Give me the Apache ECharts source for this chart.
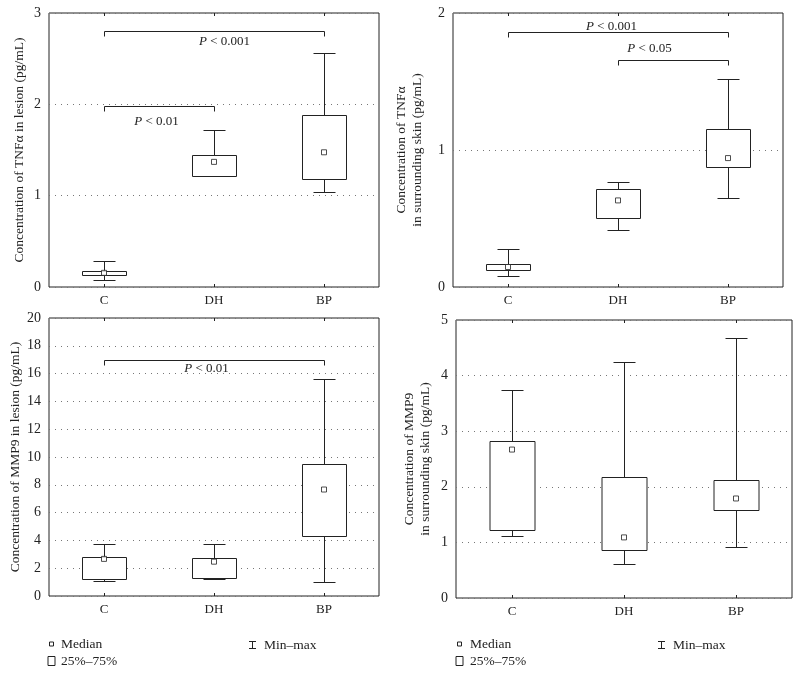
<!DOCTYPE html>
<html>
<head>
<meta charset="utf-8">
<script src="https://cdn.jsdelivr.net/npm/echarts@6/dist/echarts.min.js"></script>
<style>
html,body{margin:0;padding:0;background:#fff;}
#chart{width:800px;height:674px;}
</style>
</head>
<body>
<div id="chart"></div>
<script>
// ---- data ----
const categories = ['C', 'DH', 'BP'];
// each row: [min, q1, median, q3, max]
const tnfLesion = [[0.08, 0.13, 0.155, 0.175, 0.28], [1.22, 1.22, 1.37, 1.45, 1.72], [1.04, 1.18, 1.475, 1.88, 2.56]];
const tnfSkin = [[0.08, 0.127, 0.146, 0.166, 0.278], [0.417, 0.507, 0.632, 0.715, 0.766], [0.646, 0.878, 0.941, 1.154, 1.517]];
const mmpLesion = [[1.08, 1.20, 2.67, 2.81, 3.72], [1.20, 1.27, 2.47, 2.74, 3.72], [0.98, 4.32, 7.66, 9.48, 15.58]];
const mmpSkin = [[1.11, 1.22, 2.67, 2.83, 3.74], [0.61, 0.87, 1.09, 2.17, 4.25], [0.92, 1.58, 1.79, 2.13, 4.68]];
// brackets: [fromCategoryIndex, toCategoryIndex, yValue]
const bracketsTnfLesion = [[0, 2, 2.80], [0, 1, 1.98]];
const bracketsTnfSkin = [[0, 2, 1.86], [1, 2, 1.656]];
const bracketsMmpLesion = [[0, 2, 16.97]];
const labelsTnfLesion = ['P < 0.001', 'P < 0.01'];
const labelsTnfSkin = ['P < 0.001', 'P < 0.05'];
const labelsMmpLesion = ['P < 0.01'];
const yTicks = [[0, 3, 1], [0, 2, 1], [0, 20, 2], [0, 5, 1]]; // min, max, interval
const yNames = ['Concentration of TNFα in lesion (pg/mL)', 'Concentration of TNFα\nin surrounding skin (pg/mL)',
  'Concentration of MMP9 in lesion (pg/mL)', 'Concentration of MMP9\nin surrounding skin (pg/mL)'];
const legendTexts = ['Median', '25%–75%', 'Min–max'];

// ---- styling ----
const FONT = '"Liberation Serif", "DejaVu Serif", serif';
const INK = '#222';
const grids = [
  { left: 49, top: 13, width: 330, height: 274 },
  { left: 453, top: 13, width: 330, height: 274 },
  { left: 49, top: 318, width: 330, height: 278 },
  { left: 456, top: 320, width: 336, height: 278 }
];
const nameGaps = [22, 28, 22, 23];
const bracketLabelOffsets = [
  [[10, 10], [-3, 15]],
  [[-7, -6], [-24, -12]],
  [[-8, 8]]
];

const panels = [tnfLesion, tnfSkin, mmpLesion, mmpSkin];
const brackets = [bracketsTnfLesion, bracketsTnfSkin, bracketsMmpLesion];
const bracketLabels = [labelsTnfLesion, labelsTnfSkin, labelsMmpLesion];

function crisp(v) { return Math.round(v) + 0.5; }

function boxRender(params, api) {
  const x = api.value(0);
  const mn = api.coord([x, api.value(1)]);
  const q1 = api.coord([x, api.value(2)]);
  const q3 = api.coord([x, api.value(4)]);
  const mx = api.coord([x, api.value(5)]);
  const bw = api.size([1, 0])[0];
  const boxW = Math.round(bw * 0.4), capW = Math.round(bw * 0.2);
  const cx = crisp(mn[0]);
  const st = { stroke: INK, lineWidth: 1, fill: null };
  const children = [];
  children.push({ type: 'line', shape: { x1: cx, y1: crisp(q3[1]), x2: cx, y2: crisp(mx[1]) }, style: st });
  children.push({ type: 'line', shape: { x1: cx - capW / 2, y1: crisp(mx[1]), x2: cx + capW / 2, y2: crisp(mx[1]) }, style: st });
  if (Math.round(mn[1]) !== Math.round(q1[1])) {
    children.push({ type: 'line', shape: { x1: cx, y1: crisp(q1[1]), x2: cx, y2: crisp(mn[1]) }, style: st });
    children.push({ type: 'line', shape: { x1: cx - capW / 2, y1: crisp(mn[1]), x2: cx + capW / 2, y2: crisp(mn[1]) }, style: st });
  }
  children.push({ type: 'rect', shape: { x: cx - boxW / 2, y: crisp(q3[1]), width: boxW, height: Math.round(q1[1]) - Math.round(q3[1]) },
    style: { stroke: INK, lineWidth: 1, fill: '#fff' } });
  return { type: 'group', children: children };
}

function makeBracketRender(panelIdx) {
  return function (params, api) {
    const y = api.value(2);
    const p1 = api.coord([api.value(0), y]);
    const p2 = api.coord([api.value(1), y]);
    const yy = crisp(p1[1]);
    const x1 = crisp(p1[0]), x2 = crisp(p2[0]);
    const off = bracketLabelOffsets[panelIdx][params.dataIndex];
    const txt = bracketLabels[panelIdx][params.dataIndex].replace(/^P/, '{i|P}');
    return {
      type: 'group',
      children: [
        { type: 'polyline', shape: { points: [[x1, yy + 5], [x1, yy], [x2, yy], [x2, yy + 5]] },
          style: { stroke: INK, lineWidth: 1, fill: null } },
        { type: 'text', style: {
          text: txt, x: (x1 + x2) / 2 + off[0], y: yy + off[1], align: 'center', verticalAlign: 'middle',
          fontFamily: FONT, fontSize: 13, fill: INK,
          rich: { i: { fontStyle: 'italic', fontFamily: FONT, fontSize: 13, fill: INK } } } }
      ]
    };
  };
}

const xAxes = [], yAxes = [], series = [];
grids.forEach((g, i) => {
  xAxes.push({
    type: 'category', gridIndex: i, data: categories, boundaryGap: true,
    axisLine: { show: false },
    axisTick: { show: true, inside: true, alignWithLabel: true, length: 3, lineStyle: { color: INK } },
    axisLabel: { fontFamily: FONT, fontSize: 13, color: INK, margin: 7 }
  });
  yAxes.push({
    type: 'value', gridIndex: i, min: yTicks[i][0], max: yTicks[i][1], interval: yTicks[i][2],
    name: yNames[i], nameLocation: 'middle', nameGap: nameGaps[i], nameRotate: 90,
    nameTextStyle: { fontFamily: FONT, fontSize: 13.5, color: INK, lineHeight: 16 },
    axisLine: { show: false }, axisTick: { show: false },
    axisLabel: { fontFamily: FONT, fontSize: 14, color: INK, margin: 8 },
    splitLine: { show: true, lineStyle: { type: [1, 5], color: '#777', width: 1 } }
  });
});
grids.forEach((g, i) => {
  xAxes.push({
    type: 'category', gridIndex: i, data: categories, position: 'top', boundaryGap: true,
    axisLine: { show: false }, axisLabel: { show: false },
    axisTick: { show: true, inside: true, alignWithLabel: true, length: 3, lineStyle: { color: INK } }
  });
});

panels.forEach((arr, i) => {
  series.push({
    type: 'custom', xAxisIndex: i, yAxisIndex: i, renderItem: boxRender,
    encode: { x: 0, y: [1, 2, 3, 4, 5] },
    data: arr.map((r, k) => [k].concat(r)), z: 2
  });
  series.push({
    type: 'scatter', xAxisIndex: i, yAxisIndex: i, symbol: 'rect', symbolSize: 5,
    itemStyle: { color: '#fff', borderColor: INK, borderWidth: 1 },
    data: arr.map((r, k) => [k, r[2]]), z: 5, silent: true
  });
});
brackets.forEach((b, i) => {
  series.push({
    type: 'custom', xAxisIndex: i, yAxisIndex: i, renderItem: makeBracketRender(i),
    encode: { x: [0, 1], y: 2 }, data: b, z: 3, clip: false
  });
});

// legend (graphic)
function legendBlock(sqX, medTextX, mmX, mmTextX) {
  const ts = { fontFamily: FONT, fontSize: 13.5, fill: INK, verticalAlign: 'middle' };
  return [
    { type: 'rect', shape: { x: sqX - 2, y: 642, width: 4, height: 4 }, style: { fill: '#fff', stroke: INK, lineWidth: 1 } },
    { type: 'text', style: Object.assign({ text: legendTexts[0], x: medTextX, y: 644 }, ts) },
    { type: 'rect', shape: { x: sqX - 3.5, y: 656.5, width: 7, height: 9 }, style: { fill: '#fff', stroke: INK, lineWidth: 1 } },
    { type: 'text', style: Object.assign({ text: legendTexts[1], x: medTextX, y: 661 }, ts) },
    { type: 'polyline', shape: { points: [[mmX - 3.5, 641.5], [mmX + 3.5, 641.5]] }, style: { stroke: INK, lineWidth: 1, fill: null } },
    { type: 'polyline', shape: { points: [[mmX, 641.5], [mmX, 648.5]] }, style: { stroke: INK, lineWidth: 1, fill: null } },
    { type: 'polyline', shape: { points: [[mmX - 3.5, 648.5], [mmX + 3.5, 648.5]] }, style: { stroke: INK, lineWidth: 1, fill: null } },
    { type: 'text', style: Object.assign({ text: legendTexts[2], x: mmTextX, y: 645 }, ts) }
  ];
}

const chart = echarts.init(document.getElementById('chart'), null, { renderer: 'canvas' });
chart.setOption({
  animation: false,
  backgroundColor: '#fff',
  grid: grids.map(g => Object.assign({ show: true, borderColor: INK, borderWidth: 1, backgroundColor: 'transparent' }, g)),
  xAxis: xAxes,
  yAxis: yAxes,
  series: series,
  graphic: legendBlock(51.5, 61, 252.5, 264).concat(legendBlock(459.5, 470, 661.5, 673))
});
</script>
</body>
</html>
